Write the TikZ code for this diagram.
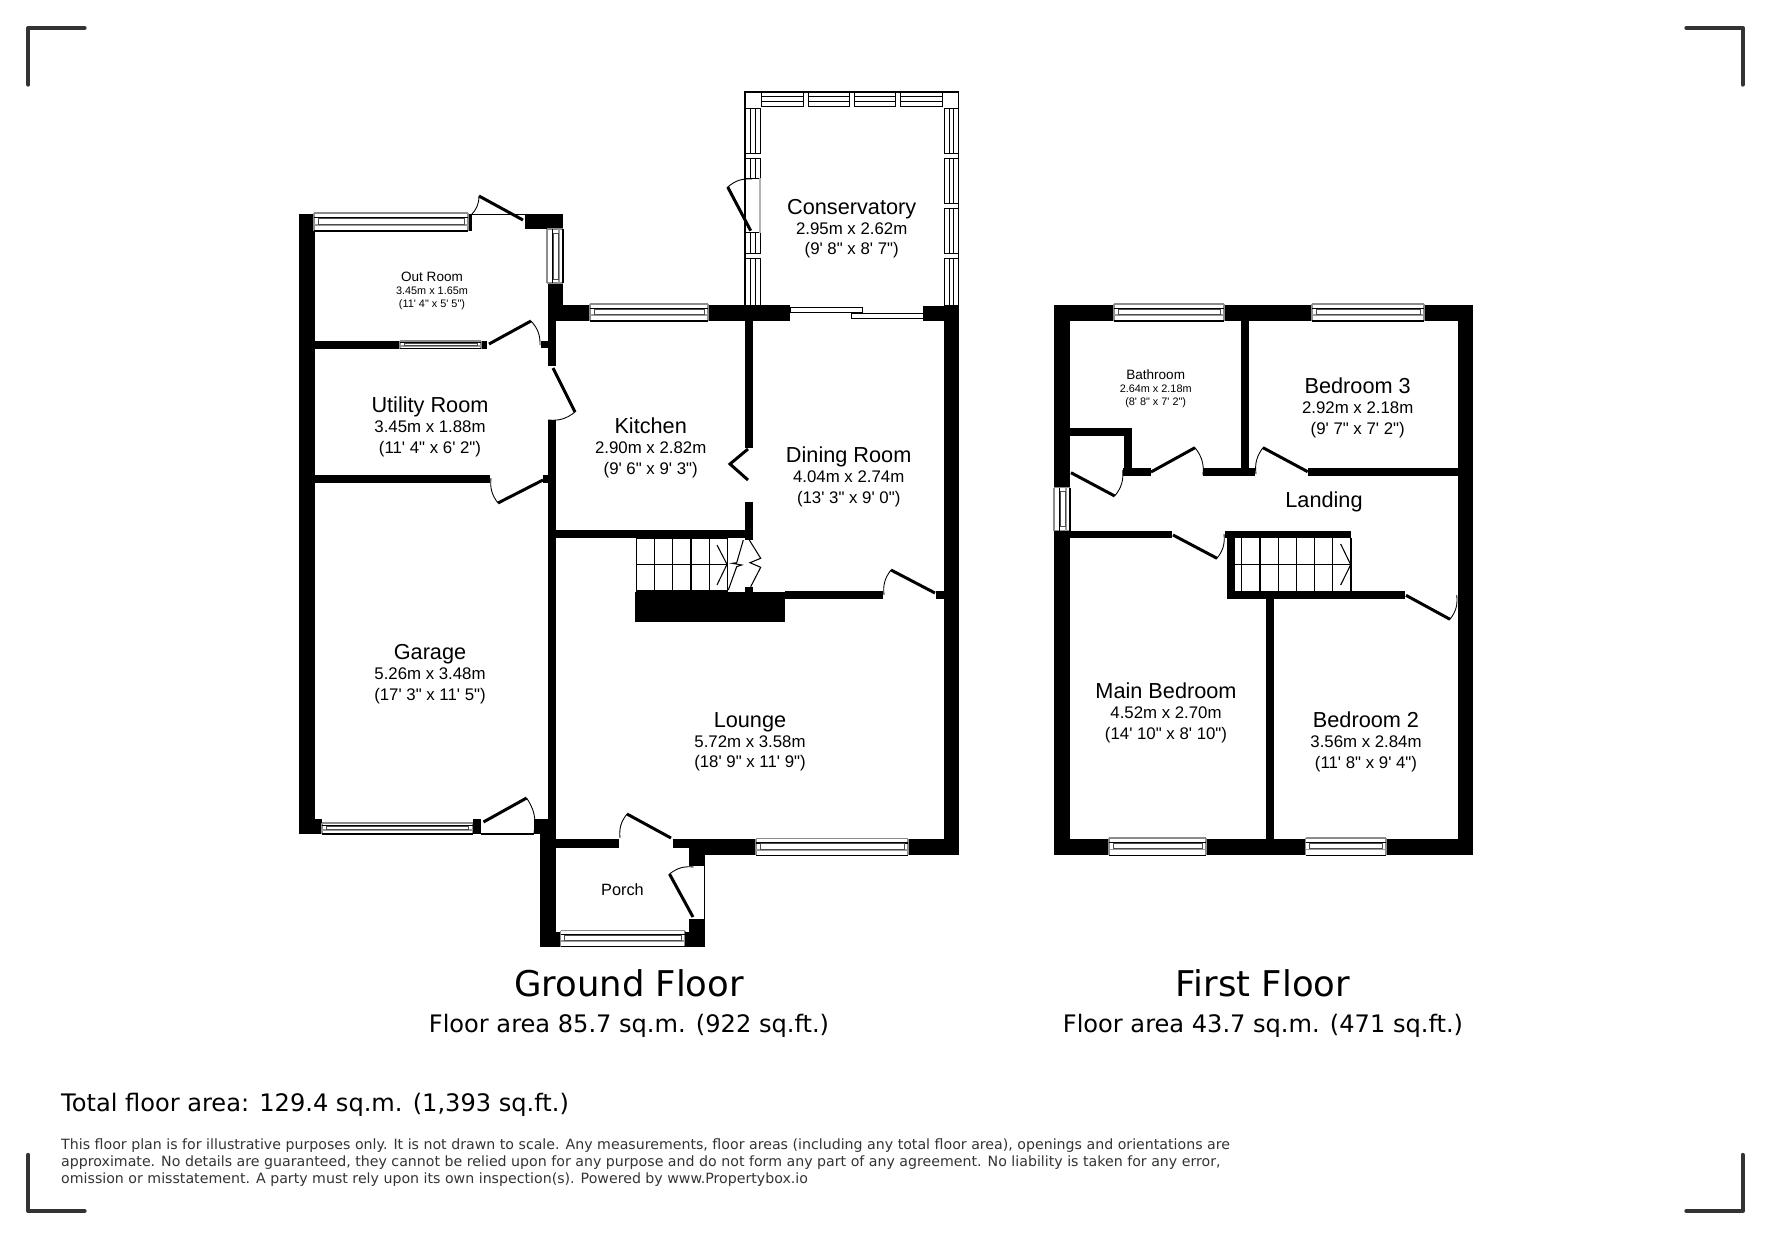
\documentclass[tikz,border=0pt]{standalone}
\usepackage{fontspec}
\setmainfont{Liberation Sans}[Ligatures=TeXOff]
\newfontfamily\captionfont{DejaVu Sans}
\usepackage{tikz}
\usetikzlibrary{positioning}

\tikzset{
	wall/.style={fill=black},
	glass/.style={draw=black,fill=white,line width=0.25pt},
	doorline/.style={draw=black,line width=0.85pt},
	swingline/.style={draw=black,line width=0.25pt},
	treadline/.style={draw=black,line width=0.3pt},
	roomtitle/.style={anchor=base,inner sep=0pt,font=\fontsize{6.17}{7}\selectfont},
	roomdims/.style={anchor=base,inner sep=0pt,font=\fontsize{4.78}{6}\selectfont},
	smalltitle/.style={anchor=base,inner sep=0pt,font=\fontsize{3.85}{5}\selectfont},
	smalldims/.style={anchor=base,inner sep=0pt,font=\fontsize{3.09}{4}\selectfont},
	cornermark/.style={draw=black!80,line width=1.25pt,line cap=round,line join=round},
	floortitle/.style={inner sep=0pt,font=\captionfont\fontsize{10.08}{12}\selectfont},
	floorarea/.style={inner sep=0pt,font=\captionfont\fontsize{6.85}{8}\selectfont}
}

% horizontal and vertical windows
\newcommand{\winh}[4]{
	\path[fill=white] (#1,#2) rectangle (#3,#4);
	\draw[black!45,line width=0.3pt] (#1,#2)--(#3,#2) (#1,#2)--(#1,#4) (#3,#2)--(#3,#4);
	\draw[black,line width=0.3pt] (#1,#4)--(#3,#4);
	\draw[black,line width=0.3pt] (#1,{#2+0.26*(#4-#2)})--(#3,{#2+0.26*(#4-#2)});
	\draw[black!40,line width=0.5pt] (#1,{#2+0.66*(#4-#2)})--(#3,{#2+0.66*(#4-#2)});
	\draw[black!70,line width=0.25pt] ({#1+4},{#2+0.3*(#4-#2)}) rectangle ({#3-4},{#2+0.62*(#4-#2)});
}
\newcommand{\winv}[4]{
	\path[fill=white] (#1,#2) rectangle (#3,#4);
	\draw[black!45,line width=0.3pt] (#1,#2)--(#1,#4) (#1,#2)--(#3,#2) (#1,#4)--(#3,#4);
	\draw[black,line width=0.3pt] (#3,#2)--(#3,#4);
	\draw[black,line width=0.3pt] ({#1+0.34*(#3-#1)},#2)--({#1+0.34*(#3-#1)},#4);
	\draw[black!40,line width=0.5pt] ({#1+0.74*(#3-#1)},#2)--({#1+0.74*(#3-#1)},#4);
	\draw[black!70,line width=0.25pt] ({#1+0.38*(#3-#1)},{#2+4}) rectangle ({#1+0.7*(#3-#1)},{#4-4});
}
\newcommand{\door}[4]{
	\draw[doorline] (#1)--(#2);
	\draw[swingline] (#2) to[bend #4=22] (#3);
}
\newcommand{\roomtext}[6]{
	\node[roomtitle] (#1) at (#2,#3) {#4};
	\node[roomdims] (#1dims) at (#2,{#3+20}) {#5};
	\node[roomdims] (#1feet) at (#2,{#3+40.5}) {#6};
}
\newcommand{\smallroomtext}[6]{
	\node[smalltitle] (#1) at (#2,#3) {#4};
	\node[smalldims] (#1dims) at (#2,{#3+13}) {#5};
	\node[smalldims] (#1feet) at (#2,{#3+26}) {#6};
}

\begin{document}
\begin{tikzpicture}[x=0.01cm,y=-0.01cm]
	\useasboundingbox (0,0) rectangle (1771,1239);

	% page corners
	\draw[cornermark] (28.3,84.5)--(28.3,28)--(84.5,28);
	\draw[cornermark] (1686.5,28)--(1742.7,28)--(1742.7,84.5);
	\draw[cornermark] (28.3,1155)--(28.3,1211)--(84.5,1211);
	\draw[cornermark] (1686.5,1211)--(1742.7,1211)--(1742.7,1155);

	% ground floor walls
	\fill[wall] (298.5,214) rectangle (314.5,834);
	\fill[wall] (468,214) rectangle (472,231);
	\fill[wall] (525,214) rectangle (563,229);
	\fill[wall] (548,283) rectangle (563,321);
	\fill[wall] (548,321) rectangle (556,366);
	\fill[wall] (541,341) rectangle (548,348);
	\fill[wall] (556,305) rectangle (590,320.7);
	\fill[wall] (708,305) rectangle (790,320.7);
	\fill[wall] (923,305.5) rectangle (959,320.7);
	\fill[wall] (944,320) rectangle (959,855);
	\fill[wall] (314,341) rectangle (400,348.5);
	\fill[wall] (481,341) rectangle (487,348.5);
	\fill[wall] (548,420) rectangle (556,830);
	\fill[wall] (314,475) rectangle (490,483);
	\fill[wall] (543,475) rectangle (548,483);
	\fill[wall] (745,320) rectangle (753,448);
	\fill[wall] (745,502) rectangle (753,540);
	\fill[wall] (556,530) rectangle (745,538);
	\fill[wall] (635,591.7) rectangle (785,622);
	\fill[wall] (745,587) rectangle (753,592);
	\fill[wall] (785,591) rectangle (883,599);
	\fill[wall] (936,591) rectangle (944,599);
	\fill[wall] (298.5,819) rectangle (322,834);
	\fill[wall] (472.5,819) rectangle (481.3,834);
	\fill[wall] (534,819) rectangle (548,834);
	\fill[wall] (540,830) rectangle (556,946.7);
	\fill[wall] (556,839) rectangle (619,848);
	\fill[wall] (672.6,839) rectangle (689,848);
	\fill[wall] (689,839) rectangle (756,855);
	\fill[wall] (689,855) rectangle (705,866);
	\fill[wall] (908,839) rectangle (959,855);
	\fill[wall] (689,919) rectangle (705,946.7);
	\fill[wall] (556,932) rectangle (560.5,946.7);
	\draw[black,line width=0.3pt] (472,214.3)--(525,214.3);
	\draw[black,line width=0.3pt] (481,834)--(534,834);
	\draw[black,line width=0.3pt] (704.7,866)--(704.7,919);

	% ground floor windows
	\winh{314}{213}{468}{231}
	\winv{547}{229}{563}{283}
	\winh{400}{341}{481}{348.5}
	\winh{590}{304}{708}{321}
	\winh{322}{823}{472.5}{834}
	\winh{756}{838.7}{908}{855.3}
	\winh{560.5}{930.7}{685}{946.7}
	\fill[wall] (685,932) rectangle (689,946.7);

	% sliding doors
	\draw[glass] (790,307) rectangle (862,312);
	\draw[glass] (851,313) rectangle (923,318);

	% conservatory frame
	\draw[black,line width=0.5pt] (745,305)--(745,91.7)--(958.5,91.7)--(958.5,305);
	\foreach \xa/\xb in {761.7/803.3,808.3/849.3,854.3/895.7,900.7/942.3}{
		\draw[black,line width=0.25pt] (\xa,92) rectangle (\xb,106);
		\draw[black,line width=0.25pt] (\xa,96.7)--(\xb,96.7) (\xa,101.7)--(\xb,101.7);
	}
	\foreach \ya/\yb in {108.3/153.3,158.3/178.3,232.7/253.3,258.3/305}{
		\draw[black,line width=0.25pt] (745.5,\ya) rectangle (760,\yb);
		\draw[black,line width=0.25pt] (750.7,\ya)--(750.7,\yb) (755.3,\ya)--(755.3,\yb);
	}
	\foreach \ya/\yb in {108.3/153.3,158.3/203.3,208.3/253.3,258.3/305}{
		\draw[black,line width=0.25pt] (944.3,\ya) rectangle (958,\yb);
		\draw[black,line width=0.25pt] (949,\ya)--(949,\yb) (953.5,\ya)--(953.5,\yb);
	}
	\draw[black!30,line width=0.3pt] (760,178.3)--(760,232.7);

	% ground floor doors
	\door{523,220}{479,196}{471,215}{left}
	\door{489,344}{531,321}{540,345}{left}
	\door{553,368}{575,412}{548,420}{left}
	\door{543,480}{498,503}{491,478}{left}
	\door{750.7,230.7}{727.7,187}{752,179}{left}
	\door{935,593}{891,570}{884,595}{right}
	\door{483.5,822}{526.6,798}{534,833}{left}
	\door{671,838}{627,814}{620,838}{right}
	\door{693,917}{669.5,874}{693.7,867}{left}
	\draw[doorline] (748,449)--(730,464)--(748,480);

	% ground floor stairs
	\draw[treadline] (636.3,538) rectangle (727.7,591);
	\foreach \xs in {654.7,672.7,691,709.3}{
		\draw[treadline] (\xs,538)--(\xs,591);
	}
	\draw[treadline] (636.3,564.3)--(727.7,564.3);
	\draw[treadline] (717,545)--(727,564.3)--(717,585);
	\draw[treadline] (743.3,540)--(736.7,562.7)--(732.3,563.3)--(741.7,565)--(736.7,566.7)--(728.3,590);
	\draw[treadline] (749.3,540)--(760.7,558.3)--(750,562.7)--(760.7,567.3)--(750.7,586.7);

	% first floor walls
	\fill[wall] (1054,305) rectangle (1070,487.7);
	\fill[wall] (1054,530.7) rectangle (1070,855);
	\fill[wall] (1054,305) rectangle (1114,320.7);
	\fill[wall] (1224,305) rectangle (1312,320.7);
	\fill[wall] (1424,305) rectangle (1473,320.7);
	\fill[wall] (1458,305) rectangle (1473,855);
	\fill[wall] (1054,839) rectangle (1109,855);
	\fill[wall] (1206,839) rectangle (1305.7,855);
	\fill[wall] (1386,839) rectangle (1473,855);
	\fill[wall] (1241,320) rectangle (1249,476);
	\fill[wall] (1203,468) rectangle (1255,476);
	\fill[wall] (1308,468) rectangle (1458,476);
	\fill[wall] (1123,468) rectangle (1151,476);
	\fill[wall] (1070,428) rectangle (1132,436);
	\fill[wall] (1124,428) rectangle (1132,476);
	\fill[wall] (1070,530.7) rectangle (1171.7,538);
	\fill[wall] (1225,530.7) rectangle (1351,538.3);
	\fill[wall] (1226.7,530.7) rectangle (1235,598.7);
	\fill[wall] (1226.7,590.7) rectangle (1405,598.7);
	\fill[wall] (1266,598) rectangle (1274,839);

	% first floor windows
	\winh{1114}{304}{1224}{321}
	\winh{1312}{304}{1424}{321}
	\winv{1054}{487.7}{1070}{530.7}
	\winh{1109}{838}{1206}{855.3}
	\winh{1305.7}{838}{1386}{855.3}

	% first floor doors
	\door{1071,472.7}{1114.7,496}{1122.7,470}{right}
	\door{1151,472}{1195,447.7}{1203,475}{left}
	\door{1307.7,471.7}{1263,447.7}{1256,474}{right}
	\door{1173,535}{1217,558.3}{1224,534}{right}
	\door{1406,595.3}{1450,619.3}{1456.7,595}{right}

	% first floor stairs
	\foreach \xs in {1241.7,1260,1278.3,1296.3,1314.7,1332.7,1351}{
		\draw[treadline] (\xs,538)--(\xs,591);
	}
	\draw[treadline] (1235,564.7)--(1351,564.7);
	\draw[treadline] (1340.7,544)--(1350.7,564.7)--(1340.7,585);

	% room names
	\roomtext{conservatory}{851.7}{214}{Conservatory}{2.95m x 2.62m}{(9' 8" x 8' 7")}
	\smallroomtext{outroom}{432}{281}{Out Room}{3.45m x 1.65m}{(11' 4" x 5' 5")}
	\roomtext{utility}{430}{412.5}{Utility Room}{3.45m x 1.88m}{(11' 4" x 6' 2")}
	\roomtext{garage}{430}{659.5}{Garage}{5.26m x 3.48m}{(17' 3" x 11' 5")}
	\roomtext{kitchen}{650.7}{433.5}{Kitchen}{2.90m x 2.82m}{(9' 6" x 9' 3")}
	\roomtext{dining}{848.7}{462.5}{Dining Room}{4.04m x 2.74m}{(13' 3" x 9' 0")}
	\roomtext{lounge}{750}{727}{Lounge}{5.72m x 3.58m}{(18' 9" x 11' 9")}
	\node[anchor=base,inner sep=0pt,font=\fontsize{4.64}{6}\selectfont] (porch) at (622.5,895) {Porch};
	\smallroomtext{bathroom}{1155.7}{379}{Bathroom}{2.64m x 2.18m}{(8' 8" x 7' 2")}
	\roomtext{bedthree}{1357.7}{393.5}{Bedroom 3}{2.92m x 2.18m}{(9' 7" x 7' 2")}
	\node[roomtitle] (landing) at (1324,507.5) {Landing};
	\roomtext{mainbed}{1166}{698.5}{Main Bedroom}{4.52m x 2.70m}{(14' 10" x 8' 10")}
	\roomtext{bedtwo}{1366}{727.5}{Bedroom 2}{3.56m x 2.84m}{(11' 8" x 9' 4")}

	% captions
	\node[floortitle] (groundtitle) at (629,983) {Ground Floor};
	\node[floorarea] (groundarea) at (629,1026) {Floor area 85.7 sq.m. (922 sq.ft.)};
	\node[floortitle] (firsttitle) at (1263,983) {First Floor};
	\node[floorarea] (firstarea) at (1263,1026) {Floor area 43.7 sq.m. (471 sq.ft.)};
	\node[anchor=west,inner sep=0pt,font=\captionfont\fontsize{6.85}{8}\selectfont] (totalarea) at (60.5,1105) {Total floor area: 129.4 sq.m. (1,393 sq.ft.)};
	\node[anchor=north west,inner sep=0pt,align=left,text=black!80,font=\captionfont\fontsize{4.03}{4.85}\selectfont] (disclaimer) at (60.5,1138) {This floor plan is for illustrative purposes only. It is not drawn to scale. Any measurements, floor areas (including any total floor area), openings and orientations are\\approximate. No details are guaranteed, they cannot be relied upon for any purpose and do not form any part of any agreement. No liability is taken for any error,\\omission or misstatement. A party must rely upon its own inspection(s). Powered by www.Propertybox.io};
\end{tikzpicture}
\end{document}
